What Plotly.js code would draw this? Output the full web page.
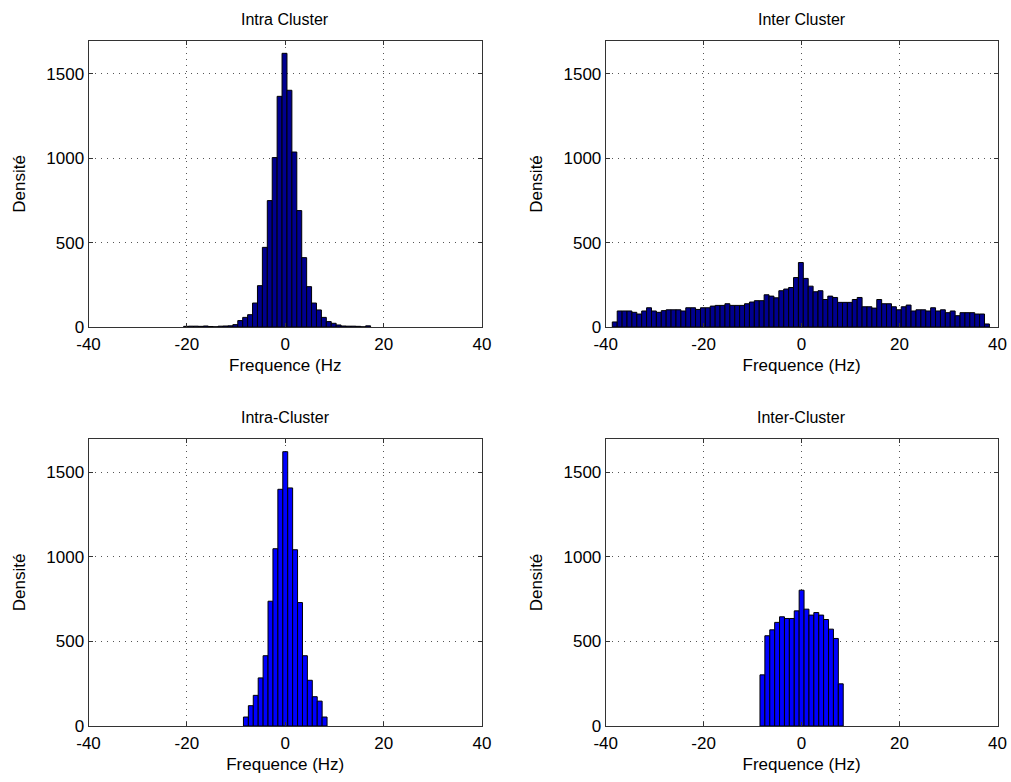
<!DOCTYPE html>
<html>
<head>
<meta charset="utf-8">
<script src="https://cdn.plot.ly/plotly-3.0.1.min.js"></script>
<style>html,body{margin:0;padding:0;background:#fff;}</style>
</head>
<body>
<div id="chart" style="width:1011px;height:782px;"></div>
<script>
// ---- Data (histogram counts) ----
// Top-left: "Intra Cluster", bins of width 1, first bin centre -20.15
const intraTopStart = -20.15;
const intraTopCounts = [4,5,5,4,6,3,1,5,6,7,14,38,57,73,142,245,472,749,1004,1367,1622,1403,1037,690,411,239,142,101,57,32,22,12,6,5,5,4,1,7];

// Top-right: "Inter Cluster", bins of width 1, first bin centre -38.15
const interTopStart = -38.15;
const interTopCounts = [30,95,95,95,87,77,95,114,95,87,97,102,102,102,95,114,114,104,114,114,124,128,128,138,128,128,128,138,148,156,156,191,183,173,215,225,234,293,382,288,242,209,215,163,183,175,146,146,146,163,175,120,120,112,163,138,138,120,102,120,130,95,102,102,95,114,95,102,85,95,67,85,85,85,77,77,18];

// Bottom-left: "Intra-Cluster", bin centres -8 ... 8
const intraBotStart = -8;
const intraBotCounts = [53,120,181,284,415,737,1047,1398,1620,1406,1041,729,415,270,173,147,53];

// Bottom-right: "Inter-Cluster", bin centres -8 ... 8
const interBotStart = -8;
const interBotCounts = [302,533,568,612,645,635,635,680,802,690,655,670,655,629,572,517,249];

const binWidth = 1;

// Tick labels
const xTickVals = [-40,-20,0,20,40];
const xTickText = ['-40','-20','0','20','40'];
const yTickVals = [0,500,1000,1500];
const yTickText = ['0','500','1000','1500'];

const panelTitles = ['Intra Cluster','Inter Cluster','Intra-Cluster','Inter-Cluster'];
const xTitles = ['Frequence (Hz','Frequence (Hz)','Frequence (Hz)','Frequence (Hz)'];
const yTitle = 'Densité';

// ---- Traces ----
const navy = 'rgb(0,0,143)';
const blue = 'rgb(0,0,255)';
function barTrace(start, counts, color, xa, ya){
  return {
    type:'bar', x0:start, dx:binWidth, y:counts, width:binWidth,
    xaxis:xa, yaxis:ya,
    marker:{color:color, line:{color:'#000', width:1}},
    hoverinfo:'x+y'
  };
}
const data = [
  barTrace(intraTopStart, intraTopCounts, navy, 'x', 'y'),
  barTrace(interTopStart, interTopCounts, navy, 'x2', 'y2'),
  barTrace(intraBotStart, intraBotCounts, blue, 'x3', 'y3'),
  barTrace(interBotStart, interBotCounts, blue, 'x4', 'y4')
];

// ---- Layout ----
const W = 1011, H = 782;
const xDomL = [88.5/W, 482/W];
const xDomR = [605.7/W, 997.5/W];
const yDomT = [1-327/H, 1-41/H];
const yDomB = [1-726/H, 1-439/H];
const fontFam = 'Liberation Sans, Arial, Helvetica, sans-serif';
const axisCommon = {
  showline:true, linecolor:'#333', linewidth:1, mirror:'ticks',
  ticks:'inside', ticklen:4, tickcolor:'#333', tickwidth:1,
  showgrid:true, gridcolor:'#555', gridwidth:1, griddash:'1px,5px',
  zeroline:false, fixedrange:true, automargin:false,
  tickfont:{family:fontFam, size:17, color:'#000'}
};
function xAxis(dom, anchor, title){
  return Object.assign({}, axisCommon, {
    domain:dom, anchor:anchor, range:[-40,40],
    tickmode:'array', tickvals:xTickVals, ticktext:xTickText,
    ticklabelstandoff:2,
    title:{text:title, font:{family:fontFam, size:17, color:'#000'}, standoff:5}
  });
}
function yAxis(dom, anchor){
  return Object.assign({}, axisCommon, {
    domain:dom, anchor:anchor, range:[0,1695],
    tickmode:'array', tickvals:yTickVals, ticktext:yTickText,
    title:{text:yTitle, font:{family:fontFam, size:17, color:'#000'}, standoff:16}
  });
}
const titleY = [1-20/H, 1-20/H, 1-417/H, 1-417/H];
const titleX = [(xDomL[0]+xDomL[1])/2, (xDomR[0]+xDomR[1])/2, (xDomL[0]+xDomL[1])/2, (xDomR[0]+xDomR[1])/2];
const annotations = panelTitles.map((t,i)=>({
  text:t, xref:'paper', yref:'paper', x:titleX[i], y:titleY[i],
  xanchor:'center', yanchor:'middle', showarrow:false,
  font:{family:fontFam, size:16, color:'#000'}
}));

const layout = {
  width:W, height:H, margin:{l:0,r:0,t:0,b:0},
  paper_bgcolor:'#fff', plot_bgcolor:'#fff',
  showlegend:false, bargap:0,
  font:{family:fontFam, size:17, color:'#000'},
  xaxis: xAxis(xDomL,'y', xTitles[0]),
  yaxis: yAxis(yDomT,'x'),
  xaxis2: xAxis(xDomR,'y2', xTitles[1]),
  yaxis2: yAxis(yDomT,'x2'),
  xaxis3: xAxis(xDomL,'y3', xTitles[2]),
  yaxis3: yAxis(yDomB,'x3'),
  xaxis4: xAxis(xDomR,'y4', xTitles[3]),
  yaxis4: yAxis(yDomB,'x4'),
  annotations: annotations
};

Plotly.newPlot('chart', data, layout, {displayModeBar:false, staticPlot:true});
</script>
</body>
</html>
